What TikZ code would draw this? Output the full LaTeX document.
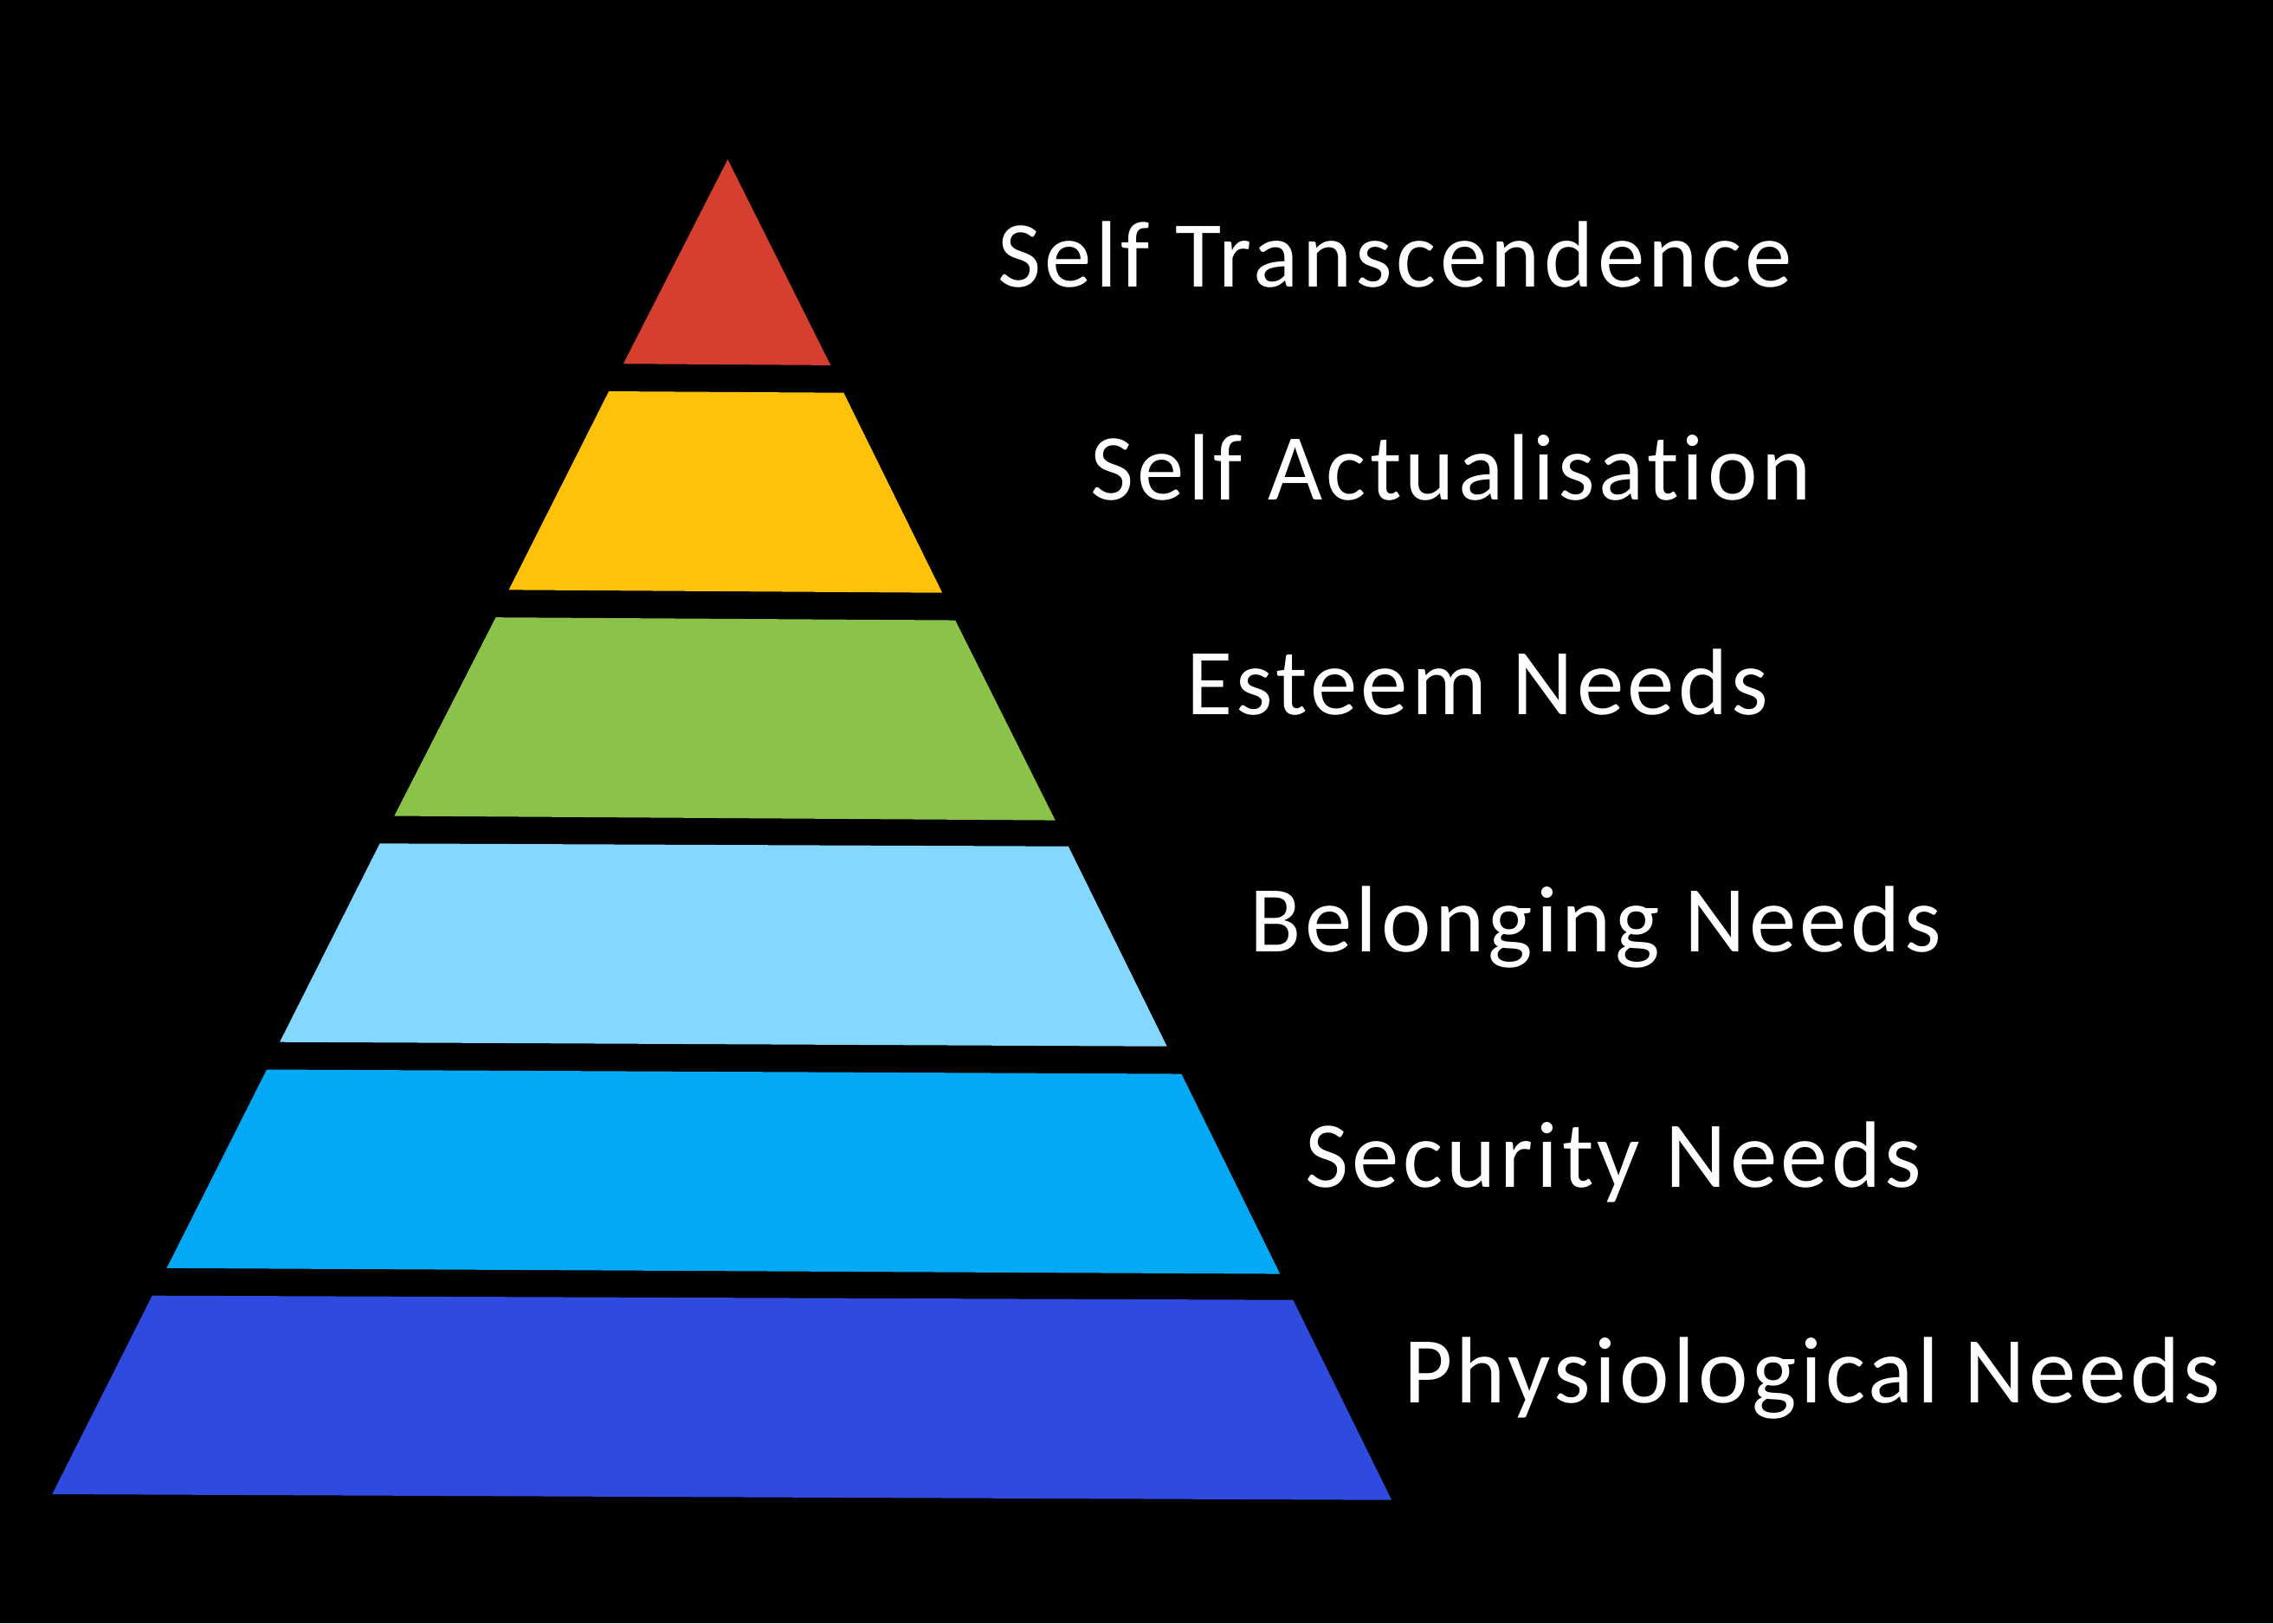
\documentclass[tikz,border=0pt]{standalone}
\usepackage{fontspec}
\usepackage{xcolor}
\usepackage{tikz}
\setmainfont{Carlito}
\newfontfamily\needsfont[LetterSpace=4, RawFeature={-liga;-dlig}]{Carlito}
\definecolor{tierred}{HTML}{D63E30}
\definecolor{tieryellow}{HTML}{FFC20A}
\definecolor{tiergreen}{HTML}{8BC34A}
\definecolor{tiersky}{HTML}{84D8FF}
\definecolor{tierblue}{HTML}{03A9F4}
\definecolor{tierdeep}{HTML}{2F4ADE}

\begin{document}
\begin{tikzpicture}[
  x=0.01674cm, y=-0.01674cm,
  tier/.style={draw=none},
  need/.style={anchor=base west, inner sep=0pt, text=white,
               font=\needsfont\fontsize{31}{31}\selectfont},
]
\fill[black] (0,0) rectangle (1568,1120);
\useasboundingbox (0,0) rectangle (1568,1120);

% pyramid tiers, top to bottom
\fill[tier, tierred]    (502,110) -- (573,252) -- (430,251) -- cycle;
\fill[tier, tieryellow] (420,270) -- (582,271) -- (650,409) -- (351,407) -- cycle;
\fill[tier, tiergreen]  (342,426) -- (659,428) -- (728,566) -- (272,563) -- cycle;
\fill[tier, tiersky]    (262,582) -- (737,584) -- (805,722) -- (193,719) -- cycle;
\fill[tier, tierblue]   (184,738) -- (815,741) -- (883,879) -- (115,875) -- cycle;
\fill[tier, tierdeep]   (105,894) -- (892,897) -- (960,1035) -- (36,1031) -- cycle;

% labels
\node[need] (trans)  at (688,198)  {Self Transcendence};
\node[need] (actual) at (752,345)  {Self Actualisation};
\node[need] (esteem) at (818,493)  {Esteem Needs};
\node[need] (belong) at (862,657)  {Belonging Needs};
\node[need] (secure) at (900,819)  {Security Needs};
\node[need] (physio) at (968,968)  {Physiological Needs};
\end{tikzpicture}
\end{document}
